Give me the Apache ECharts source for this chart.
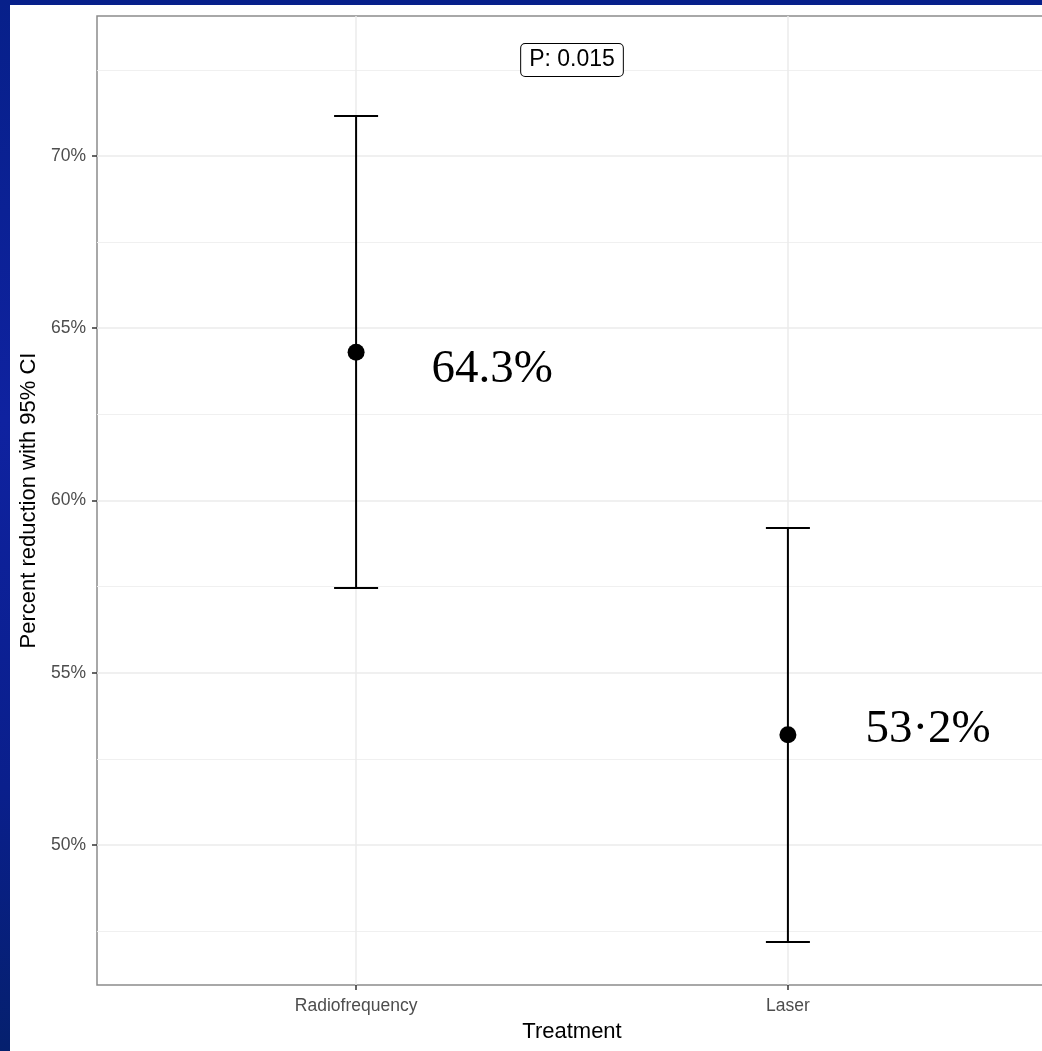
<!DOCTYPE html>
<html>
<head>
<meta charset="utf-8">
<script src="https://cdn.jsdelivr.net/npm/echarts@6/dist/echarts.min.js"></script>
<style>
  html, body { margin: 0; padding: 0; }
  body { width: 1042px; height: 1051px; overflow: hidden;
         background: linear-gradient(to bottom, #07208a 0%, #0f22a0 40%, #0a1f8c 75%, #05206e 100%); position: relative; }
  #chart { position: absolute; left: 10px; top: 5px; width: 1045px; height: 1046px; background: #ffffff; }
</style>
</head>
<body>
<div id="chart"></div>
<script>
// ---- data ----
const categories = ["Radiofrequency", "Laser"];
const estimates = [64.3, 53.2];
const lowerCI = [57.46, 47.19];
const upperCI = [71.16, 59.20];
const pointLabels = ["64.3%", "53\u00B72%"];
const yTickValues = [50, 55, 60, 65, 70];
const yMinorValues = [47.5, 52.5, 57.5, 62.5, 67.5, 72.5];
const pValueText = "P: 0.015";
const yRange = [45.94, 74.06];
const xRange = [0.4, 2.6];

const xPositions = categories.map((c, i) => i + 1);
const chart = echarts.init(document.getElementById('chart'));
const FONT = "'Liberation Sans', Arial, sans-serif";

const option = {
  animation: false,
  backgroundColor: '#ffffff',
  grid: { left: 87, top: 11, right: 8, bottom: 66, show: true, borderColor: '#8c8c8c', borderWidth: 1.5, backgroundColor: 'transparent' },
  xAxis: {
    type: 'value', min: xRange[0], max: xRange[1],
    name: 'Treatment', nameLocation: 'middle', nameGap: 36,
    nameTextStyle: { fontFamily: FONT, fontSize: 22, color: '#000' },
    axisLine: { show: false },
    splitLine: { show: false },
    axisTick: { show: true, customValues: xPositions, length: 5, lineStyle: { color: '#333', width: 1.5 } },
    axisLabel: { customValues: xPositions, margin: 12, fontFamily: FONT, fontSize: 17.5, color: '#4d4d4d',
      formatter: v => categories[Math.round(v) - 1] || '' }
  },
  yAxis: {
    type: 'value', min: yRange[0], max: yRange[1],
    name: 'Percent reduction with 95% CI', nameLocation: 'middle', nameGap: 54, nameRotate: 90,
    nameTextStyle: { fontFamily: FONT, fontSize: 22, color: '#000' },
    axisLine: { show: false },
    splitLine: { show: false },
    axisTick: { show: true, customValues: yTickValues, length: 5, lineStyle: { color: '#333', width: 1.5 } },
    axisLabel: { customValues: yTickValues, margin: 11, fontFamily: FONT, fontSize: 17.5, color: '#4d4d4d',
      formatter: v => Math.round(v) + '%' }
  },
  series: [
    {
      type: 'line', data: [], silent: true, z: 1,
      markLine: {
        silent: true, symbol: 'none', label: { show: false }, animation: false,
        data: [
          ...yMinorValues.map(v => ({ yAxis: v, lineStyle: { color: '#f0f0f0', width: 1, type: 'solid' } })),
          ...yTickValues.map(v => ({ yAxis: v, lineStyle: { color: '#ebebeb', width: 1.5, type: 'solid' } })),
          ...xPositions.map(v => ({ xAxis: v, lineStyle: { color: '#ebebeb', width: 1.5, type: 'solid' } }))
        ]
      }
    },
    {
      type: 'custom', z: 10, silent: true,
      data: xPositions.map((x, i) => [x, lowerCI[i], upperCI[i]]),
      renderItem: function (params, api) {
        const lo = api.coord([api.value(0), api.value(1)]);
        const hi = api.coord([api.value(0), api.value(2)]);
        const hw = 22;
        const st = { stroke: '#000', lineWidth: 2 };
        return {
          type: 'group',
          children: [
            { type: 'line', shape: { x1: lo[0], y1: lo[1], x2: hi[0], y2: hi[1] }, style: st },
            { type: 'line', shape: { x1: lo[0] - hw, y1: lo[1], x2: lo[0] + hw, y2: lo[1] }, style: st },
            { type: 'line', shape: { x1: hi[0] - hw, y1: hi[1], x2: hi[0] + hw, y2: hi[1] }, style: st }
          ]
        };
      }
    },
    {
      type: 'scatter', z: 11, symbol: 'circle', symbolSize: 17, silent: true,
      itemStyle: { color: '#000', opacity: 1 },
      data: xPositions.map((x, i) => ({
        value: [x, estimates[i]],
        label: {
          show: true, position: 'right', distance: i === 0 ? 67 : 69,
          offset: [0, i === 0 ? 17 : -5],
          formatter: pointLabels[i],
          fontFamily: "'Liberation Serif', 'Times New Roman', serif", fontSize: 47, color: '#000', opacity: 1
        }
      }))
    }
  ]
};
chart.setOption(option);

const px = chart.convertToPixel({ gridIndex: 0 }, [1.5, 0]);
chart.setOption({
  graphic: [{
    type: 'text', x: px[0], y: 55, z: 20,
    style: {
      text: pValueText, fontFamily: FONT, fontSize: 23, lineHeight: 26, fill: '#000',
      align: 'center', verticalAlign: 'middle',
      backgroundColor: '#fff', borderColor: '#000', borderWidth: 1, borderRadius: 4,
      padding: [3, 8, 3, 8]
    }
  }]
});
</script>
</body>
</html>
